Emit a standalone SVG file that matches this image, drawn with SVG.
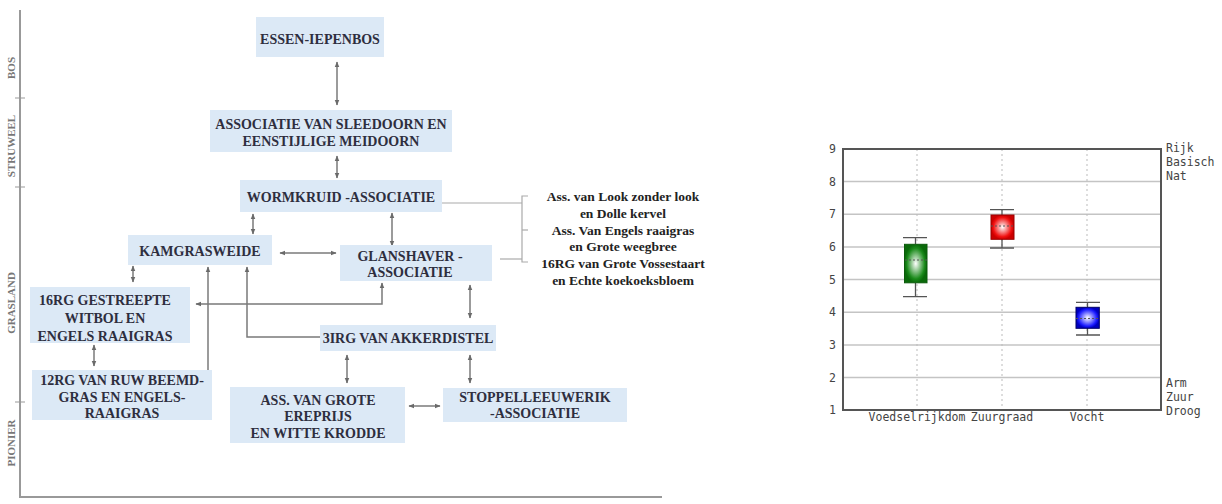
<svg xmlns="http://www.w3.org/2000/svg" width="1222" height="504" viewBox="0 0 1222 504">
<defs>
<style>
.box{fill:#dce9f6}
.t{font-family:"Liberation Serif",serif;font-weight:bold;font-size:14px;fill:#2e2e3e;text-anchor:middle}
.s{font-family:"Liberation Serif",serif;font-weight:bold;font-size:13.5px;fill:#222;text-anchor:middle}
.ax{font-family:"Liberation Serif",serif;font-weight:bold;font-size:11px;fill:#777;text-anchor:middle}
.c{fill:none;stroke:#7a7a7a;stroke-width:1.5}
.b{fill:none;stroke:#aaa;stroke-width:1.2}
.m{font-family:"DejaVu Sans Mono",monospace;font-size:11.5px;fill:#444}
.g{stroke:#c4c4c4;stroke-width:1.5}
.v{stroke:#bbb;stroke-width:1;stroke-dasharray:2 3}
.w{stroke:#555;stroke-width:1.3;fill:none}
</style>
<marker id="ah" viewBox="0 0 10 10" refX="9" refY="5" markerWidth="6" markerHeight="6" orient="auto-start-reverse" markerUnits="userSpaceOnUse"><path d="M0,1 L10,5 L0,9 z" fill="#6a6a6a"/></marker>
<radialGradient id="gg"><stop offset="0" stop-color="#fff"/><stop offset="0.8" stop-color="#1a8a1a"/><stop offset="1" stop-color="#0a6a0a"/></radialGradient>
<radialGradient id="gr"><stop offset="0" stop-color="#fff"/><stop offset="0.8" stop-color="#f01010"/><stop offset="1" stop-color="#c00"/></radialGradient>
<radialGradient id="gb"><stop offset="0" stop-color="#fff"/><stop offset="0.8" stop-color="#1a1aff"/><stop offset="1" stop-color="#0000c0"/></radialGradient>
</defs>
<rect width="1222" height="504" fill="#fff"/>

<g id="axis">
<line x1="20" y1="10" x2="20" y2="497" stroke="#999" stroke-width="2"/>
<line x1="19" y1="497" x2="662" y2="497" stroke="#999" stroke-width="2"/>
<line x1="15" y1="98" x2="25" y2="98" stroke="#999" stroke-width="1"/>
<line x1="15" y1="187" x2="25" y2="187" stroke="#999" stroke-width="1"/>
<line x1="15" y1="402" x2="25" y2="402" stroke="#999" stroke-width="1"/>
<text class="ax" transform="translate(15,68) rotate(-90)">BOS</text>
<text class="ax" transform="translate(15,146) rotate(-90)">STRUWEEL</text>
<text class="ax" transform="translate(15,303) rotate(-90)">GRASLAND</text>
<text class="ax" transform="translate(15,443) rotate(-90)">PIONIER</text>
</g>

<g id="connectors">
<line class="c" x1="337" y1="62" x2="337" y2="105" marker-start="url(#ah)" marker-end="url(#ah)"/>
<line class="c" x1="337" y1="156" x2="337" y2="178" marker-start="url(#ah)" marker-end="url(#ah)"/>
<line class="c" x1="253" y1="214" x2="253" y2="234" marker-start="url(#ah)" marker-end="url(#ah)"/>
<line class="c" x1="392" y1="213" x2="392" y2="246" marker-start="url(#ah)" marker-end="url(#ah)"/>
<line class="c" x1="280" y1="253" x2="336" y2="253" marker-start="url(#ah)" marker-end="url(#ah)"/>
<line class="c" x1="133" y1="266" x2="133" y2="282" marker-start="url(#ah)" marker-end="url(#ah)"/>
<polyline class="c" points="382,283 382,304 196,304" marker-start="url(#ah)" marker-end="url(#ah)"/>
<polyline class="c" points="208,370 208,267" marker-end="url(#ah)"/>
<polyline class="c" points="320,337 247,337 247,267" marker-end="url(#ah)"/>
<line class="c" x1="470" y1="285" x2="470" y2="318" marker-start="url(#ah)" marker-end="url(#ah)"/>
<line class="c" x1="94" y1="345" x2="94" y2="366" marker-start="url(#ah)" marker-end="url(#ah)"/>
<line class="c" x1="347" y1="355" x2="347" y2="383" marker-start="url(#ah)" marker-end="url(#ah)"/>
<line class="c" x1="470" y1="355" x2="470" y2="383" marker-start="url(#ah)" marker-end="url(#ah)"/>
<line class="c" x1="409" y1="406" x2="440" y2="406" marker-start="url(#ah)" marker-end="url(#ah)"/>
<line class="b" x1="442" y1="203" x2="522" y2="203"/>
<line class="b" x1="500" y1="259" x2="522" y2="259"/>
<polyline class="b" points="528,196 522,196 522,262 528,262"/>
<line class="b" x1="522" y1="230" x2="528" y2="230"/>
</g>

<g id="n-essen"><rect class="box" x="256" y="17" width="128" height="40"/><text class="t" x="320" y="44">ESSEN-IEPENBOS</text></g>
<g id="n-sleedoorn"><rect class="box" x="210" y="110" width="242" height="42"/><text class="t" x="331" y="129">ASSOCIATIE VAN SLEEDOORN EN</text><text class="t" x="331" y="146">EENSTIJLIGE MEIDOORN</text></g>
<g id="n-wormkruid"><rect class="box" x="240" y="180" width="202" height="32"/><text class="t" x="341" y="202">WORMKRUID -ASSOCIATIE</text></g>
<g id="n-kamgras"><rect class="box" x="128" y="235" width="144" height="30"/><text class="t" x="200" y="256">KAMGRASWEIDE</text></g>
<g id="n-glanshaver"><rect class="box" x="340" y="245" width="152" height="36"/><text class="t" x="410" y="261">GLANSHAVER -</text><text class="t" x="410" y="277">ASSOCIATIE</text></g>
<g id="n-16rg"><rect class="box" x="30" y="287" width="160" height="56"/><text class="t" x="105" y="305">16RG GESTREEPTE</text><text class="t" x="105" y="323">WITBOL EN</text><text class="t" x="105" y="341">ENGELS RAAIGRAS</text></g>
<g id="n-akkerdistel"><rect class="box" x="320" y="325" width="176" height="26"/><text class="t" x="408" y="343">3IRG VAN AKKERDISTEL</text></g>
<g id="n-12rg"><rect class="box" x="32" y="370" width="180" height="50"/><text class="t" x="122" y="385">12RG VAN RUW BEEMD-</text><text class="t" x="122" y="402">GRAS EN ENGELS-</text><text class="t" x="122" y="418">RAAIGRAS</text></g>
<g id="n-ereprijs"><rect class="box" x="230" y="387" width="175" height="56"/><text class="t" x="318" y="405">ASS. VAN GROTE</text><text class="t" x="318" y="421">EREPRIJS</text><text class="t" x="318" y="438">EN WITTE KRODDE</text></g>
<g id="n-stoppel"><rect class="box" x="443" y="388" width="184" height="34"/><text class="t" x="535" y="402">STOPPELLEEUWERIK</text><text class="t" x="535" y="418">-ASSOCIATIE</text></g>
<g id="n-bracket">
<text class="s" x="623" y="201">Ass. van Look zonder look</text>
<text class="s" x="623" y="218">en Dolle kervel</text>
<text class="s" x="623" y="235">Ass. Van Engels raaigras</text>
<text class="s" x="623" y="251">en Grote weegbree</text>
<text class="s" x="623" y="268">16RG van Grote Vossestaart</text>
<text class="s" x="623" y="285">en Echte koekoeksbloem</text>
</g>

<g id="chart">
<line class="g" x1="843" y1="181.6" x2="1161" y2="181.6"/>
<line class="g" x1="843" y1="214.3" x2="1161" y2="214.3"/>
<line class="g" x1="843" y1="247" x2="1161" y2="247"/>
<line class="g" x1="843" y1="279.6" x2="1161" y2="279.6"/>
<line class="g" x1="843" y1="312.3" x2="1161" y2="312.3"/>
<line class="g" x1="843" y1="344.9" x2="1161" y2="344.9"/>
<line class="g" x1="843" y1="377.5" x2="1161" y2="377.5"/>
<line class="v" x1="917" y1="149" x2="917" y2="410"/>
<line class="v" x1="1002" y1="149" x2="1002" y2="410"/>
<line class="v" x1="1087" y1="149" x2="1087" y2="410"/>
<rect x="843" y="149" width="318" height="261" fill="none" stroke="#555" stroke-width="2"/>
<g text-anchor="end">
<text class="m" x="836" y="153">9</text><text class="m" x="836" y="186">8</text><text class="m" x="836" y="218">7</text><text class="m" x="836" y="251">6</text><text class="m" x="836" y="284">5</text><text class="m" x="836" y="316">4</text><text class="m" x="836" y="349">3</text><text class="m" x="836" y="382">2</text><text class="m" x="836" y="414">1</text>
</g>
<text class="m" x="1166" y="152">Rijk</text><text class="m" x="1166" y="166">Basisch</text><text class="m" x="1166" y="180">Nat</text>
<text class="m" x="1166" y="387">Arm</text><text class="m" x="1166" y="401">Zuur</text><text class="m" x="1166" y="415">Droog</text>
<text class="m" x="917" y="421" text-anchor="middle">Voedselrijkdom</text>
<text class="m" x="1002" y="421" text-anchor="middle">Zuurgraad</text>
<text class="m" x="1087" y="421" text-anchor="middle">Vocht</text>
<path class="w" d="M903,237.7 H927 M915.5,237.7 V244 M915.5,283 V296.7 M903,296.7 H927"/>
<rect x="904.5" y="244.3" width="22.5" height="38.5" fill="url(#gg)" stroke="#0a5a0a"/>
<line x1="905" y1="260" x2="927" y2="260" stroke="#555" stroke-dasharray="2 2"/>
<path class="w" d="M990,209.7 H1014 M1002,209.7 V215 M1002,239 V248 M990,248 H1014"/>
<rect x="991" y="215" width="23" height="24.3" fill="url(#gr)" stroke="#900"/>
<line x1="991" y1="226" x2="1014" y2="226" stroke="#555" stroke-dasharray="2 2"/>
<path class="w" d="M1076,302.3 H1100 M1087.5,302.3 V307 M1087.5,328 V335 M1076,335 H1100"/>
<rect x="1076" y="307.3" width="23.3" height="21" fill="url(#gb)" stroke="#006"/>
<line x1="1076" y1="318.5" x2="1099" y2="318.5" stroke="#555" stroke-dasharray="2 2"/>
</g>
</svg>
